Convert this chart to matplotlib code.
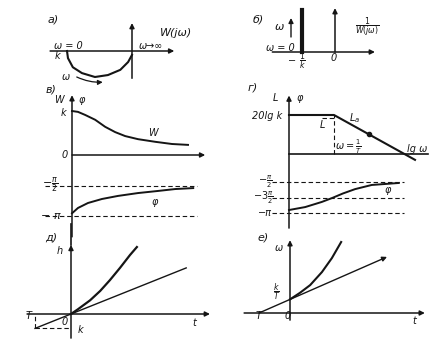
'''
Six-panel sketch of the frequency and time characteristics of a link.
'''

import numpy as np
import matplotlib
matplotlib.use('Agg')
import matplotlib.pyplot as plt

W, H = 444, 341
INK = '#151515'

# а) Nyquist plot W(jω), units of k
nyq_re = [-1.0, -0.985, -0.91, -0.77, -0.57, -0.37, -0.18, -0.06, 0.0]
nyq_im = [0.0, -0.11, -0.25, -0.34, -0.40, -0.37, -0.29, -0.17, -0.06]

# б) inverse plot 1/W(jω): a single ray at -1/k
inv_re = -1.0
inv_top = 1.27

# в) amplitude W(ω) and phase φ(ω), ω in units of 1/T
amp_w = [0, 0.15, 0.33, 0.58, 0.83, 1.08, 1.33, 1.65, 2.08, 2.5, 2.9]
amp_W = [1.0, 0.98, 0.91, 0.80, 0.64, 0.52, 0.43, 0.36, 0.30, 0.25, 0.23]
ph_w = [0, 0.15, 0.4, 0.75, 1.15, 1.65, 2.15, 2.58, 3.03]
ph_phi = [-3.0, -2.72, -2.46, -2.25, -2.09, -1.94, -1.83, -1.73, -1.68]

# г) log amplitude L (dB) and phase vs lg ω
lg_w = [0, 1.0, 2.8]
lg_L = [20, 20, -3]
lg_dot = (1.78, 10.5)
lgph_w = [0, 0.36, 0.73, 0.96, 1.2, 1.47, 1.84, 2.44]
lgph_phi = [-2.99, -2.84, -2.58, -2.38, -2.15, -1.93, -1.72, -1.62]

# д) step response h(t), t in units of T
h_line_t = [-1.0, 3.2]
h_line_h = [-0.4, 1.28]
h_t = [0, 0.19, 0.53, 0.81, 1.08, 1.36, 1.64, 1.83]
h_h = [0, 0.13, 0.38, 0.64, 0.94, 1.28, 1.64, 1.86]

# е) impulse response w(t)
w_line_t = [-1.0, 3.13]
w_line_w = [0.0, 1.81]
w_t = [0, 0.32, 0.65, 1.03, 1.35, 1.65]
w_w = [0.44, 0.65, 0.90, 1.32, 1.77, 2.29]

fig = plt.figure(figsize=(W / 100, H / 100), dpi=100)
fig.patch.set_facecolor('white')


def panel(ox, oy, sx, sy):
    '''Transparent axes over the whole figure, origin at pixel (ox, oy).'''
    ax = fig.add_axes([0, 0, 1, 1])
    ax.set_axis_off()
    ax.patch.set_alpha(0)
    ax.set_xlim(-ox / sx, (W - ox) / sx)
    ax.set_ylim(-(H - oy) / sy, oy / sy)
    return ax


def arrow(ax, x0, y0, x1, y1, lw=1.1, rad=0.0):
    ax.annotate('', xy=(x1, y1), xytext=(x0, y0),
                arrowprops=dict(arrowstyle='-|>', lw=lw, color=INK,
                                mutation_scale=7, shrinkA=0, shrinkB=0,
                                connectionstyle='arc3,rad=%g' % rad))


def label(x, y, s, size=7, **kw):
    fig.text(x / W, 1 - y / H, s, ha='center', va='center', style='italic',
             fontsize=size, color=INK, **kw)


def dashed(ax, x, y):
    ax.plot(x, y, color=INK, lw=0.8, ls=(0, (4, 2.5)))


# а)
ax = panel(132, 51, 65, 65)
arrow(ax, -1.26, 0, 0.65, 0)
arrow(ax, 0, -0.42, 0, 0.43)
ax.plot(nyq_re, nyq_im, color=INK, lw=1.5)
arrow(ax, -0.85, -0.40, -0.45, -0.48, lw=0.9, rad=0.12)
label(53, 20, 'а)', 8)
label(176, 33, 'W(jω)', 8)
label(68, 46, 'ω = 0')
label(57, 56, 'k')
label(151, 46, 'ω→∞')
label(66, 77, 'ω')

# б)
ax = panel(335, 52, 33, 33)
arrow(ax, -1.9, 0, 1.21, 0)
arrow(ax, 0, 0, 0, 1.33)
ax.plot([inv_re, inv_re], [0, inv_top], color=INK, lw=3)
arrow(ax, -44 / 33, 15 / 33, -44 / 33, 34 / 33, lw=1)
label(258, 20, 'б)', 8)
label(280, 27, 'ω', 8)
label(280, 48, 'ω = 0')
label(292, 61, '−')
label(302, 61, r'$\frac{1}{k}$', 8)
label(334, 58, '0')
label(367, 28, r'$\frac{1}{W(j\omega)}$', 8)

# в)
ax = panel(72, 155, 40, 44)
arrow(ax, 0, -1.86, 0, 1.36)
arrow(ax, 0, 0, 3.33, 0)
ax.plot(amp_w, amp_W, color=INK, lw=1.4)
ax = panel(72, 156, 40, 19.1)
for lvl in (-np.pi / 2, -np.pi):
    dashed(ax, [-0.68, 3.13], [lvl, lvl])
ax.plot(ph_w, ph_phi, color=INK, lw=1.4)
label(51, 90, 'в)', 8)
label(59, 100, 'W')
label(82, 100, 'φ')
label(63, 113, 'k')
label(65, 155, '0')
label(153, 133, 'W')
label(50, 185, r'$-\frac{\pi}{2}$', 8)
label(51, 216, '− π', 8)
label(155, 202, 'φ')

# г)
ax = panel(289, 154, 45, 1.95)
arrow(ax, 0, -38, 0, 30)
ax.plot([0, 3.09], [0, 0], color=INK, lw=1.2)
ax.plot(lg_w, lg_L, color=INK, lw=1.5)
dashed(ax, [1, 1], [0, 20])
dashed(ax, [0.73, 1.0], [18.4, 18.4])
ax.plot(*lg_dot, 'o', color=INK, ms=3)
ax = panel(289, 151, 45, 19.74)
for lvl in (-np.pi / 2, -3 * np.pi / 4, -np.pi):
    dashed(ax, [-0.38, 2.56], [lvl, lvl])
ax.plot(lgph_w, lgph_phi, color=INK, lw=1.4)
label(253, 88, 'г)', 8)
label(275, 98, 'L')
label(300, 98, 'φ')
label(267, 116, '20lg k')
label(322, 125, 'L')
label(355, 118, r'$L_a$')
label(348, 147, r'$\omega=\frac{1}{T}$')
label(417, 149, 'lg ω')
label(265, 182, r'$-\frac{\pi}{2}$', 7)
label(263, 198, r'$-3\frac{\pi}{2}$', 7)
label(265, 213, '−π', 7)
label(388, 190, 'φ')

# д)
ax = panel(71, 314, 36, 36)
arrow(ax, 0, -0.67, 0, 1.92)
arrow(ax, -1.22, 0, 3.86, 0)
ax.plot(h_line_t, h_line_h, color=INK, lw=1.0)
ax.plot(h_t, h_h, color=INK, lw=1.6)
dashed(ax, [-1, 0], [-0.4, -0.4])
dashed(ax, [-1, -1], [-0.4, -0.05])
ax.plot([0, 0], [1.92, 2.5], color=INK, lw=1.2)
label(51, 238, 'д)', 8)
label(60, 251, 'h')
label(29, 316, 'T')
label(65, 322, '0')
label(80, 330, 'k')
label(194, 323, 't')

# е)
ax = panel(290, 313, 31, 31)
arrow(ax, 0, -0.23, 0, 2.35)
arrow(ax, -1.48, 0, 4.35, 0)
arrow(ax, w_line_t[0], w_line_w[0], w_line_t[1], w_line_w[1], lw=1.0)
ax.plot(w_t, w_w, color=INK, lw=1.5)
label(263, 238, 'е)', 8)
label(279, 248, 'ω')
label(277, 292, r'$\frac{k}{T}$', 8)
label(259, 316, 'T')
label(288, 316, '0')
label(414, 321, 't')

fig.savefig('out.png', dpi=100)
